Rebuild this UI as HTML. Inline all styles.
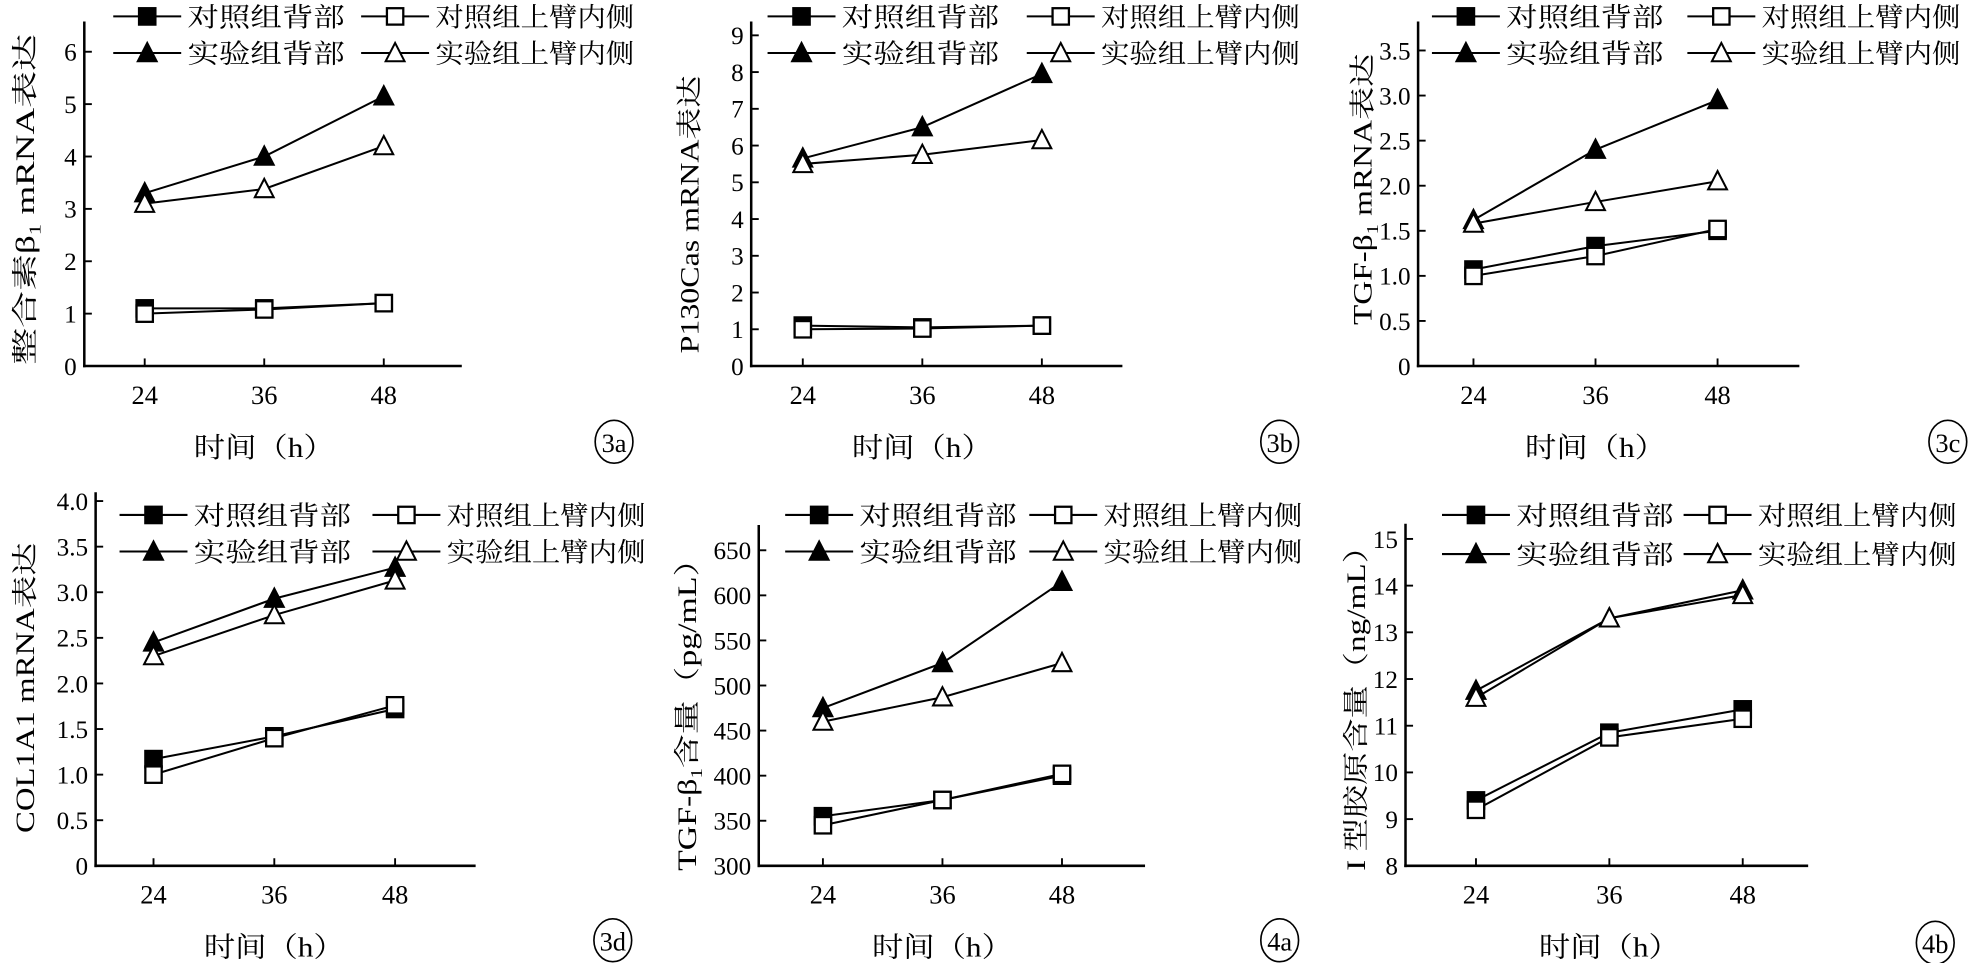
<!DOCTYPE html>
<html><head><meta charset="utf-8">
<style>
html,body{margin:0;padding:0;background:#fff;}
svg{display:block;}
text{font-family:"Liberation Serif","Noto Serif CJK SC",serif;fill:#000;}
</style></head>
<body>
<svg id="fig" width="1973" height="963" viewBox="0 0 1568 763" preserveAspectRatio="none" xmlns="http://www.w3.org/2000/svg"></svg>
<script>
const xCategories = ["24","36","48"];
const seriesNames = ["对照组背部","对照组上臂内侧","实验组背部","实验组上臂内侧"];
// panel 3a
const p3aCtrlBack = [1.1,1.1,1.2];
const p3aCtrlArm = [1.0,1.08,1.2];
const p3aExpBack = [3.3,4.0,5.15];
const p3aExpArm = [3.1,3.38,4.2];
const p3aTicks = ["0","1","2","3","4","5","6"];
// panel 3b
const p3bCtrlBack = [1.1,1.05,1.1];
const p3bCtrlArm = [1.0,1.02,1.1];
const p3bExpBack = [5.65,6.5,7.95];
const p3bExpArm = [5.5,5.75,6.15];
const p3bTicks = ["0","1","2","3","4","5","6","7","8","9"];
// panel 3c
const p3cCtrlBack = [1.07,1.33,1.5];
const p3cCtrlArm = [1.0,1.22,1.52];
const p3cExpBack = [1.62,2.4,2.95];
const p3cExpArm = [1.58,1.82,2.05];
const p3cTicks = ["0","0.5","1.0","1.5","2.0","2.5","3.0","3.5"];
// panel 3d
const p3dCtrlBack = [1.17,1.42,1.72];
const p3dCtrlArm = [1.0,1.4,1.76];
const p3dExpBack = [2.45,2.93,3.27];
const p3dExpArm = [2.3,2.75,3.13];
const p3dTicks = ["0","0.5","1.0","1.5","2.0","2.5","3.0","3.5","4.0"];
// panel 4a
const p4aCtrlBack = [355,373,400];
const p4aCtrlArm = [345,373,402];
const p4aExpBack = [475,525,615];
const p4aExpArm = [460,487,525];
const p4aTicks = ["300","350","400","450","500","550","600","650"];
// panel 4b
const p4bCtrlBack = [9.4,10.85,11.35];
const p4bCtrlArm = [9.2,10.75,11.15];
const p4bExpBack = [11.75,13.3,13.9];
const p4bExpArm = [11.6,13.3,13.8];
const p4bTicks = ["8","9","10","11","12","13","14","15"];

const NS="http://www.w3.org/2000/svg";
const svg=document.getElementById('fig');
function mk(tag,attrs,parent){const e=document.createElementNS(NS,tag);for(const k in attrs)e.setAttribute(k,attrs[k]);(parent||svg).appendChild(e);return e;}

function marker(g,kind,x,y){
  const s=6.5;let e;
  if(kind===0||kind===1){
    e=mk('rect',{x:x-s,y:y-s,width:2*s,height:2*s,fill:kind===0?'#000':'#fff',stroke:'#000','stroke-width':1.8},g);
  } else {
    e=mk('polygon',{points:`${x},${y-s-1.5} ${x-s-1},${y+s} ${x+s+1},${y+s}`,fill:kind===2?'#000':'#fff',stroke:'#000','stroke-width':1.6},g);
  }
  return e;
}

function panel(cfg){
  const g=mk('g',{});
  
  
  const ymin=parseFloat(cfg.ticks[0]), ymax=parseFloat(cfg.ticks[cfg.ticks.length-1]);
  const ys=v=>cfg.y0-(v-ymin)/(ymax-ymin)*(cfg.y0-cfg.yTop);
  const xs=i=>cfg.xt[0]+i*(cfg.xt[1]-cfg.xt[0]);
  const ya=mk('line',{x1:cfg.x0,y1:cfg.axTop,x2:cfg.x0,y2:cfg.y0+1,stroke:'#000','stroke-width':2},g);
  
  const xa=mk('line',{x1:cfg.x0-1,y1:cfg.y0,x2:cfg.x1,y2:cfg.y0,stroke:'#000','stroke-width':2},g);
  
  cfg.ticks.forEach(t=>{
    const y=ys(parseFloat(t));
    mk('line',{x1:cfg.x0,y1:y,x2:cfg.x0+6,y2:y,stroke:'#000','stroke-width':1.5},g);
    const tx=mk('text',{x:cfg.x0-6,y:y+7,'font-size':20,'text-anchor':'end'},g);
    
    tx.textContent=t;
  });
  xCategories.forEach((c,i)=>{
    const x=xs(i);
    mk('line',{x1:x,y1:cfg.y0,x2:x,y2:cfg.y0-6,stroke:'#000','stroke-width':1.5},g);
    const tx=mk('text',{x:x,y:cfg.y0+30,'font-size':21,'text-anchor':'middle'},g);
    
    tx.textContent=c;
  });
  const data=[cfg.cb,cfg.ca,cfg.eb,cfg.ea];
  data.forEach((arr,k)=>{
    const pl=mk('polyline',{points:arr.map((v,i)=>xs(i)+','+ys(v)).join(' '),fill:'none',stroke:'#000','stroke-width':1.6},g);
    
  });
  data.forEach((arr,k)=>{
    arr.forEach((v,i)=>{
      const m=marker(g,k,xs(i),ys(v));
      
      
    });
  });
  const L=cfg.leg;
  const pos=[[L.x1,L.r1],[L.x2,L.r1],[L.x1,L.r2],[L.x2,L.r2]];
  seriesNames.forEach((n,k)=>{
    const [mx,ry]=pos[k];
    const lg=mk('g',{},g);
    
    mk('line',{x1:mx-27,y1:ry,x2:mx+27,y2:ry,stroke:'#000','stroke-width':1.6},lg);
    marker(lg,k,mx,ry);
    const t=mk('text',{x:mx+32,y:ry+8,'font-size':21,textLength:(k%2?158:125),lengthAdjust:'spacingAndGlyphs'},lg);
    t.textContent=n;
  });
  const xt=mk('text',{x:xs(1),y:cfg.y0+72,'font-size':22,'text-anchor':'middle',textLength:112,lengthAdjust:'spacingAndGlyphs'},g);
  
  xt.textContent='时间（h）';
  const yt=mk('text',{x:0,y:0,'font-size':21,'text-anchor':'middle',transform:`translate(${cfg.ytx},${cfg.yty}) rotate(-90)`,textLength:cfg.ytl,lengthAdjust:'spacingAndGlyphs'},g);
  
  yt.innerHTML=cfg.ytitle;
  const cg=mk('g',{},g);
  
  mk('ellipse',{cx:cfg.cx,cy:cfg.cy,rx:15,ry:17,fill:'none',stroke:'#000','stroke-width':1.3},cg);
  const ct=mk('text',{x:cfg.cx,y:cfg.cy+8,'font-size':21,'text-anchor':'middle'},cg);
  ct.textContent=cfg.id;
}

panel({id:'3a',x0:67,x1:367,y0:290,yTop:41,axTop:17,xt:[115,210],ticks:p3aTicks,cb:p3aCtrlBack,ca:p3aCtrlArm,eb:p3aExpBack,ea:p3aExpArm,
 leg:{x1:117,x2:314,r1:13,r2:42},ytx:27,yty:158,ytl:262,ytitle:'整合素β<tspan font-size="13" dy="5">1</tspan><tspan dy="-5"> mRNA表达</tspan>',cx:488,cy:350});
panel({id:'3b',x0:597,x1:892,y0:290,yTop:28,axTop:17,xt:[638,733],ticks:p3bTicks,cb:p3bCtrlBack,ca:p3bCtrlArm,eb:p3bExpBack,ea:p3bExpArm,
 leg:{x1:637,x2:843,r1:13,r2:42},ytx:555,yty:170,ytl:220,ytitle:'P130Cas mRNA表达',cx:1017,cy:350});
panel({id:'3c',x0:1127,x1:1430,y0:290,yTop:40,axTop:17,xt:[1171,1268],ticks:p3cTicks,cb:p3cCtrlBack,ca:p3cCtrlArm,eb:p3cExpBack,ea:p3cExpArm,
 leg:{x1:1165,x2:1368,r1:13,r2:42},ytx:1090,yty:150,ytl:215,ytitle:'TGF-β<tspan font-size="13" dy="5">1</tspan><tspan dy="-5"> mRNA表达</tspan>',cx:1548,cy:350});
panel({id:'3d',x0:76,x1:378,y0:686,yTop:397,axTop:390,xt:[122,218],ticks:p3dTicks,cb:p3dCtrlBack,ca:p3dCtrlArm,eb:p3dExpBack,ea:p3dExpArm,
 leg:{x1:122,x2:323,r1:408,r2:437},ytx:27,yty:545,ytl:230,ytitle:'COL1A1 mRNA表达',cx:487,cy:745});
panel({id:'4a',x0:603,x1:910,y0:686,yTop:436,axTop:416,xt:[654,749],ticks:p4aTicks,cb:p4aCtrlBack,ca:p4aCtrlArm,eb:p4aExpBack,ea:p4aExpArm,
 leg:{x1:651,x2:845,r1:408,r2:437},ytx:553,yty:560,ytl:260,ytitle:'TGF-β<tspan font-size="13" dy="5">1</tspan><tspan dy="-5">含量（pg/mL）</tspan>',cx:1017,cy:745});
panel({id:'4b',x0:1117,x1:1437,y0:686,yTop:427,axTop:415,xt:[1173,1279],ticks:p4bTicks,cb:p4bCtrlBack,ca:p4bCtrlArm,eb:p4bExpBack,ea:p4bExpArm,
 leg:{x1:1173,x2:1365,r1:408,r2:439},ytx:1085,yty:555,ytl:270,ytitle:'I 型胶原含量（ng/mL）',cx:1538,cy:747});
</script>
</body></html>
